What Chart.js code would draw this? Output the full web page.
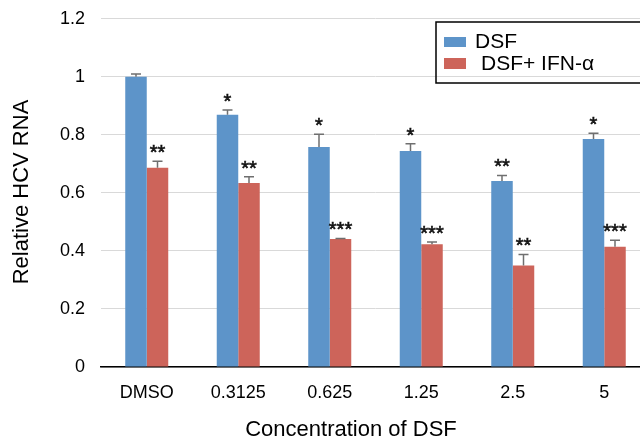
<!DOCTYPE html>
<html>
<head>
<meta charset="utf-8">
<script src="https://cdn.jsdelivr.net/npm/chart.js@4.4.1/dist/chart.umd.min.js"></script>
<style>
  html, body { margin: 0; padding: 0; background: #fff; overflow: hidden; }
  #wrap { position: relative; width: 650px; height: 440px; }
</style>
</head>
<body>
<div id="wrap"><canvas id="chart"></canvas></div>
<script>
// values
const categories = ['DMSO', '0.3125', '0.625', '1.25', '2.5', '5'];
const dsf = [1.0, 0.869, 0.758, 0.744, 0.641, 0.786];
const dsfErr = [0.01, 0.017, 0.044, 0.025, 0.019, 0.02];
const dsfIfn = [0.687, 0.634, 0.441, 0.423, 0.350, 0.414];
const dsfIfnErr = [0.022, 0.022, 0.002, 0.008, 0.038, 0.023];
const dsfStars = ['', '*', '*', '*', '**', '*'];
const dsfIfnStars = ['**', '**', '***', '***', '**', '***'];
const yTicks = [0, 0.2, 0.4, 0.6, 0.8, 1, 1.2];
const yTickLabels = ['0', '0.2', '0.4', '0.6', '0.8', '1', '1.2'];

const FONT = "'Liberation Sans', Arial, sans-serif";
const BLUE = '#5d94c9';
const RED = '#cd645a';

// error bars (upward only) + significance stars
const errorBars = {
  id: 'errorBars',
  afterDatasetsDraw(chart) {
    const ctx = chart.ctx;
    const y = chart.scales.y;
    chart.data.datasets.forEach((ds, di) => {
      const meta = chart.getDatasetMeta(di);
      meta.data.forEach((bar, i) => {
        const top = y.getPixelForValue(ds.data[i] + ds.err[i]);
        ctx.save();
        ctx.strokeStyle = '#6f6f6f';
        ctx.lineWidth = 1.5;
        ctx.beginPath();
        ctx.moveTo(bar.x, bar.y);
        ctx.lineTo(bar.x, top);
        ctx.moveTo(bar.x - 5, top);
        ctx.lineTo(bar.x + 5, top);
        ctx.stroke();
        if (ds.stars[i]) {
          ctx.fillStyle = '#111';
          ctx.strokeStyle = '#111';
          ctx.lineWidth = 0.6;
          ctx.font = '20px ' + FONT;
          ctx.textAlign = 'center';
          ctx.textBaseline = 'alphabetic';
          ctx.fillText(ds.stars[i], bar.x, top - 2);
          ctx.strokeText(ds.stars[i], bar.x, top - 2);
        }
        ctx.restore();
      });
    });
  }
};

// legend box and axis titles
const extras = {
  id: 'extras',
  afterDraw(chart) {
    const ctx = chart.ctx;
    ctx.save();
    // legend
    ctx.strokeStyle = '#000';
    ctx.lineWidth = 1.5;
    ctx.strokeRect(436, 22, 220, 61);
    const ds = chart.data.datasets;
    ctx.font = '21px ' + FONT;
    ctx.textBaseline = 'middle';
    ctx.textAlign = 'left';
    ctx.fillStyle = ds[0].backgroundColor;
    ctx.fillRect(444, 37, 22, 10);
    ctx.fillStyle = ds[1].backgroundColor;
    ctx.fillRect(444, 58, 22, 11);
    ctx.fillStyle = '#000';
    ctx.fillText(ds[0].label, 475, 42);
    ctx.fillText(ds[1].label, 481, 64);
    // axis titles
    ctx.font = '22px ' + FONT;
    ctx.textAlign = 'center';
    ctx.fillText('Concentration of DSF', 351, 430);
    ctx.translate(22, 192);
    ctx.rotate(-Math.PI / 2);
    ctx.fillText('Relative HCV RNA', 0, 0);
    ctx.restore();
  }
};

new Chart(document.getElementById('chart'), {
  type: 'bar',
  data: {
    labels: categories,
    datasets: [
      { label: 'DSF', data: dsf, err: dsfErr, stars: dsfStars, backgroundColor: BLUE },
      { label: 'DSF+ IFN-α', data: dsfIfn, err: dsfIfnErr, stars: dsfIfnStars, backgroundColor: RED }
    ]
  },
  options: {
    responsive: true,
    maintainAspectRatio: false,
    animation: false,
    layout: { padding: { top: 8, left: 0, right: 0, bottom: 0 } },
    datasets: { bar: { categoryPercentage: 0.47, barPercentage: 1 } },
    plugins: { legend: { display: false }, tooltip: { enabled: false } },
    scales: {
      x: {
        grid: { display: false, drawTicks: false },
        border: { color: '#000', width: 1.5 },
        ticks: { color: '#000', font: { family: FONT, size: 18 }, padding: 15, maxRotation: 0 },
        afterFit(scale) { scale.height = 73; }
      },
      y: {
        min: 0,
        max: 1.2,
        afterBuildTicks(scale) { scale.ticks = yTicks.map(v => ({ value: v })); },
        grid: { color: '#d9d9d9', lineWidth: 1, drawTicks: true, tickLength: 8, tickColor: 'rgba(0,0,0,0)' },
        border: { display: false },
        ticks: {
          color: '#000',
          font: { family: FONT, size: 18 },
          padding: 8,
          callback: (v, i) => yTickLabels[i]
        },
        afterFit(scale) { scale.width = 101; }
      }
    }
  },
  plugins: [errorBars, extras]
});
</script>
</body>
</html>
